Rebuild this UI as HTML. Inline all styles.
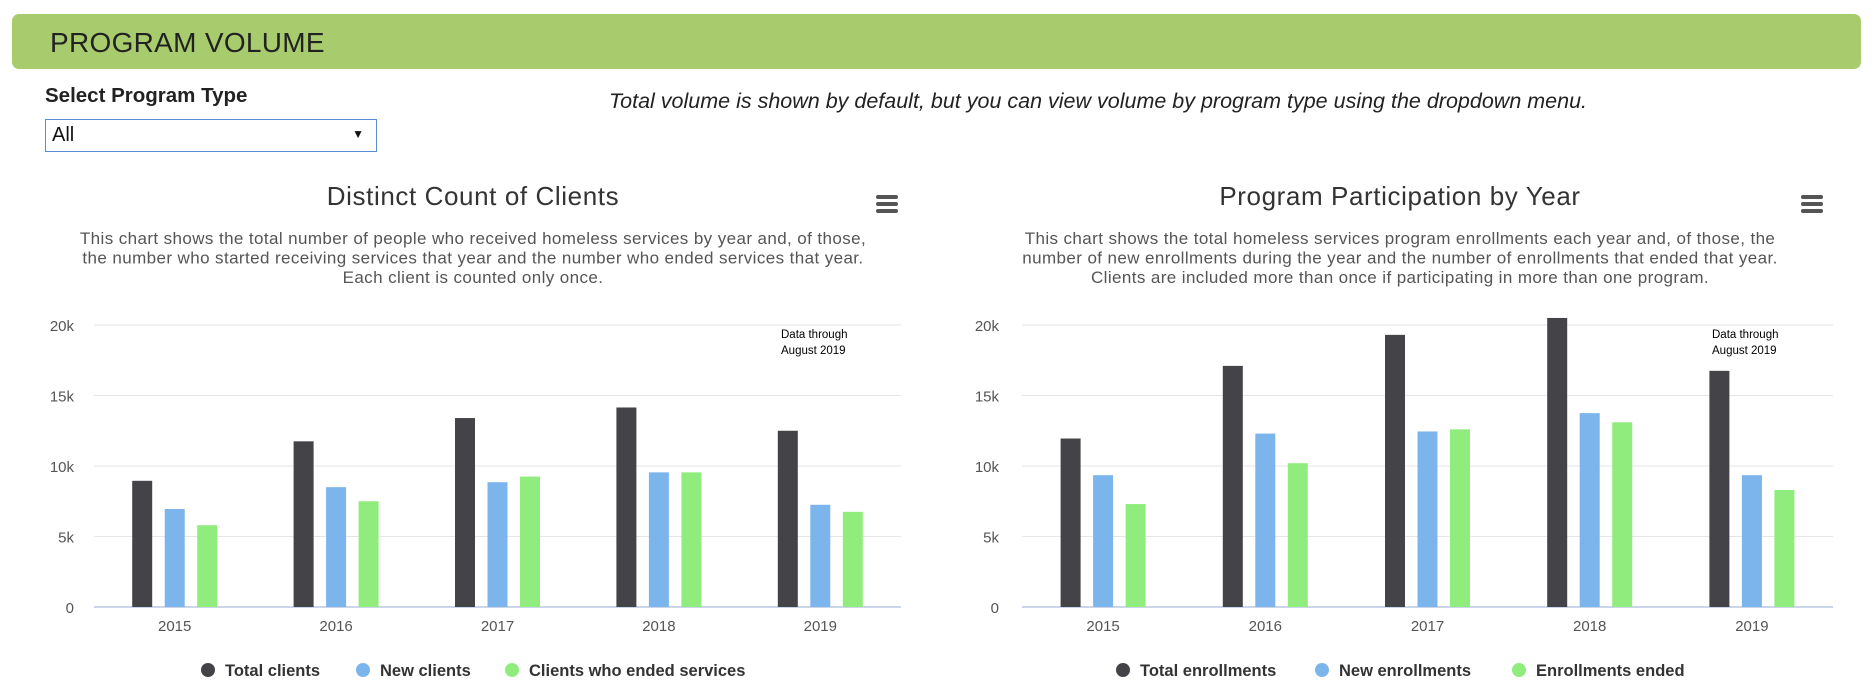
<!DOCTYPE html>
<html><head><meta charset="utf-8">
<style>
body{margin:0;width:1873px;height:693px;background:#fff;font-family:"Liberation Sans",sans-serif;position:relative;overflow:hidden}
.hdr{position:absolute;left:12px;top:14px;width:1849px;height:55px;background:#a8cb6e;border-radius:7px}
.hdr span{position:absolute;left:38px;top:13px;font-size:28px;color:#222;letter-spacing:0.3px}
.lbl{position:absolute;left:45px;top:84px;font-size:20.5px;color:#222;font-weight:bold}
.sel{position:absolute;left:45px;top:119px;width:332px;height:33px;border:1.5px solid #5b8dd6;box-sizing:border-box;font-size:20px;color:#111}
.sel span{position:absolute;left:6px;top:4px}
.sel i{position:absolute;right:12px;top:7px;font-style:normal;font-size:12px}
.note{position:absolute;left:510px;width:1176px;text-align:center;top:89px;font-size:21.5px;font-style:italic;color:#222}
svg{position:absolute;left:0;top:0}
</style></head><body>
<div class="hdr"><span>PROGRAM VOLUME</span></div>
<div class="lbl">Select Program Type</div>
<div class="sel"><span>All</span><i>▼</i></div>
<div class="note">Total volume is shown by default, but you can view volume by program type using the dropdown menu.</div>
<svg id="s" width="1873" height="693" xmlns="http://www.w3.org/2000/svg"></svg>
<script>
const categories=["2015","2016","2017","2018","2019"];
const yTicks=[0,5000,10000,15000,20000];
const yTickLabels=["0","5k","10k","15k","20k"];
const clientsTotal=[8950,11750,13400,14150,12500];
const clientsNew=[6950,8500,8850,9550,7250];
const clientsEnded=[5800,7500,9250,9550,6750];
const enrollTotal=[11950,17100,19300,20500,16750];
const enrollNew=[9350,12300,12450,13750,9350];
const enrollEnded=[7300,10200,12600,13100,8300];
const leftNames=["Total clients","New clients","Clients who ended services"];
const rightNames=["Total enrollments","New enrollments","Enrollments ended"];
const colors=["#434348","#7cb5ec","#90ed7d"];
const svg=document.getElementById('s');
const NS="http://www.w3.org/2000/svg";
function mk(t,a,txt){const e=document.createElementNS(NS,t);for(const k in a)e.setAttribute(k,a[k]);if(txt!==undefined)e.textContent=txt;svg.appendChild(e);return e;}
function chart(o){
  const x0=o.x0,x1=o.x1,yTop=325,yBot=607,yMax=20000;
  const y=v=>yBot-(v/yMax)*(yBot-yTop);
  const cw=(x1-x0)/categories.length;
  const cx=i=>x0+cw*(i+0.5);
  let e=mk('text',{x:o.cx,y:205,'text-anchor':'middle','font-size':26,fill:'#333','letter-spacing':'0.6'},o.title);
  
  
  o.desc.forEach((d,i)=>{e=mk('text',{x:o.cx,y:244+i*19.5,'text-anchor':'middle','font-size':17,fill:'#555','letter-spacing':'0.4'},d);
    
    });
  const g=mk('g',{});
  
  
  [0,7,14].forEach(d=>{const r=document.createElementNS(NS,'rect');r.setAttribute('x',o.mx);r.setAttribute('y',195+d);r.setAttribute('width',22);r.setAttribute('height',4);r.setAttribute('rx',2);r.setAttribute('fill','#555');g.appendChild(r);});
  yTicks.forEach((t,i)=>{
    e=mk('line',{x1:x0,x2:x1,y1:y(t),y2:y(t),stroke:t===0?'#ccd6eb':'#e6e6e6','stroke-width':t===0?2:1});
    
    
    e=mk('text',{x:o.lx,y:y(t)+6,'text-anchor':'end','font-size':15,fill:'#555'},yTickLabels[i]);
    
    
  });
  categories.forEach((c,i)=>{
    e=mk('text',{x:cx(i),y:631,'text-anchor':'middle','font-size':15,fill:'#555'},c);
    
    
  });
  o.series.forEach((s,j)=>{
    s.forEach((v,i)=>{
      e=mk('rect',{x:cx(i)+(j-1)*32.5-10,y:y(v),width:20,height:yBot-y(v),fill:colors[j]});
      
      
    });
  });
  e=mk('text',{x:o.nx,y:338,'font-size':11.5,fill:'#000'},'Data through');
  
  
  e=mk('text',{x:o.nx,y:354,'font-size':11.5,fill:'#000'},'August 2019');
  
  
  o.names.forEach((n,j)=>{
    e=mk('circle',{cx:o.leg[j],cy:670,r:7,fill:colors[j]});
    
    
    e=mk('text',{x:o.leg[j]+17,y:676,'font-size':16.5,'font-weight':'bold',fill:'#333'},n);
    
    
  });
}
chart({id:'clients-chart',x0:94,x1:901,cx:473,mx:876,lx:74,nx:781,title:'Distinct Count of Clients',
 desc:['This chart shows the total number of people who received homeless services by year and, of those,','the number who started receiving services that year and the number who ended services that year.','Each client is counted only once.'],
 series:[clientsTotal,clientsNew,clientsEnded],names:leftNames,leg:[208,363,512]});
chart({id:'participation-chart',x0:1022,x1:1833,cx:1400,mx:1801,lx:999,nx:1712,title:'Program Participation by Year',
 desc:['This chart shows the total homeless services program enrollments each year and, of those, the','number of new enrollments during the year and the number of enrollments that ended that year.','Clients are included more than once if participating in more than one program.'],
 series:[enrollTotal,enrollNew,enrollEnded],names:rightNames,leg:[1123,1322,1519]});
</script>
</body></html>
